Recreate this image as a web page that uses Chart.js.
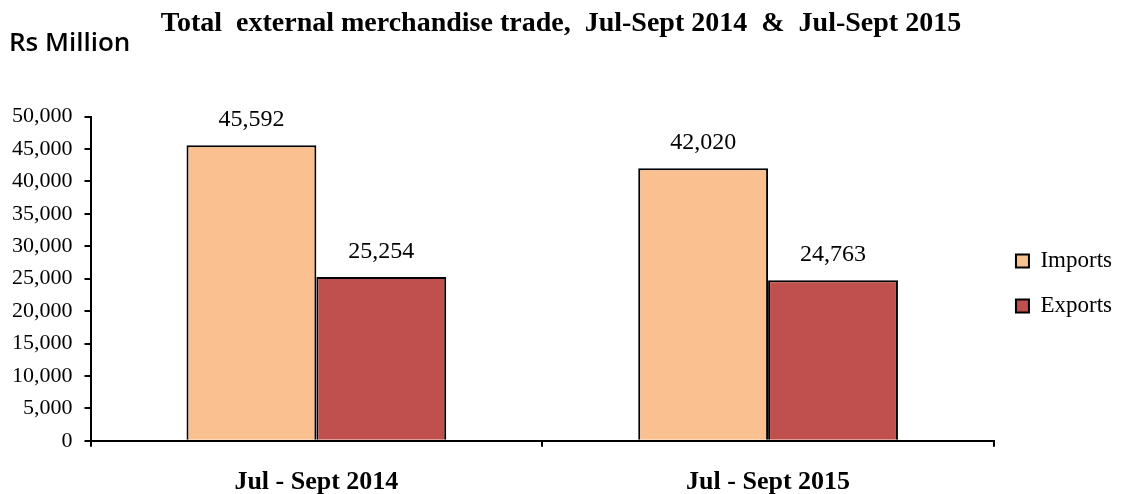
<!DOCTYPE html>
<html>
<head>
<meta charset="utf-8">
<script src="https://cdn.jsdelivr.net/npm/chart.js@4"></script>
<style>
  html, body { margin: 0; padding: 0; background: #fff; }
  #wrap { width: 1127px; height: 494px; }
</style>
</head>
<body>
<div id="wrap"><canvas id="tradeChart"></canvas></div>
<script>
const periods = ["Jul - Sept 2014", "Jul - Sept 2015"];
const imports = [45592, 42020];
const exports = [25254, 24763];
const yTicks = [0, 5000, 10000, 15000, 20000, 25000, 30000, 35000, 40000, 45000, 50000];

const serif = "'Liberation Serif', 'Times New Roman', serif";

// etiquetas de valor por cima das barras + texto "Rs Million"
const extras = {
    id: "extras",
    afterDatasetsDraw(chart) {
        const ctx = chart.ctx;
        ctx.save();
        ctx.fillStyle = "#000";
        ctx.font = "24px " + serif;
        ctx.textAlign = "center";
        ctx.textBaseline = "alphabetic";
        chart.data.datasets.forEach((ds, i) => {
            chart.getDatasetMeta(i).data.forEach((bar, j) => {
                ctx.fillText(ds.data[j].toLocaleString("en-US"), bar.x, bar.y - 19);
            });
        });
        ctx.font = "600 26px 'Open Sans', 'Liberation Sans', sans-serif";
        ctx.textAlign = "left";
        ctx.fillText("Rs Million", 9, 51);
        ctx.restore();
    }
};

new Chart(document.getElementById("tradeChart").getContext("2d"), {
    type: "bar",
    data: {
        labels: periods,
        datasets: [
            { label: "Imports", data: imports, backgroundColor: "#FAC090", borderColor: "#000", borderWidth: 2 },
            { label: "Exports", data: exports, backgroundColor: "#C0504D", borderColor: "#000", borderWidth: 2 }
        ]
    },
    options: {
        responsive: true,
        maintainAspectRatio: false,
        animation: false,
        layout: { padding: { left: 0, right: 5, top: 3, bottom: -24 } },
        datasets: { bar: { categoryPercentage: 0.575, barPercentage: 1.0 } },
        scales: {
            x: {
                grid: { display: true, offset: true, drawOnChartArea: false, drawTicks: true, tickLength: 6, color: "#000", lineWidth: 2 },
                border: { display: true, color: "#000", width: 2 },
                ticks: { color: "#000", font: { family: serif, size: 26, weight: "bold" }, padding: 20 }
            },
            y: {
                min: 0,
                max: 50000,
                afterBuildTicks(axis) { axis.ticks = yTicks.map((v) => ({ value: v })); },
                grid: { display: true, drawOnChartArea: false, drawTicks: true, tickLength: 6, color: "#000", lineWidth: 2 },
                border: { display: true, color: "#000", width: 2 },
                ticks: {
                    color: "#000",
                    font: { family: serif, size: 22 },
                    padding: 12,
                    callback: (v) => Number(v).toLocaleString("en-US")
                }
            }
        },
        plugins: {
            title: {
                display: true,
                text: "Total  external merchandise trade,  Jul-Sept 2014  &  Jul-Sept 2015",
                color: "#000",
                font: { family: serif, size: 28, weight: "bold" },
                padding: { top: 4, bottom: 76 }
            },
            legend: {
                position: "right",
                title: { display: true, text: " ", font: { size: 20 }, padding: { top: 0, bottom: 22 } },
                labels: {
                    color: "#000",
                    font: { family: serif, size: 23 },
                    boxWidth: 13,
                    boxHeight: 13,
                    padding: 22,
                    useBorderRadius: false
                }
            },
            tooltip: { enabled: false }
        }
    },
    plugins: [extras]
});
</script>
</body>
</html>
